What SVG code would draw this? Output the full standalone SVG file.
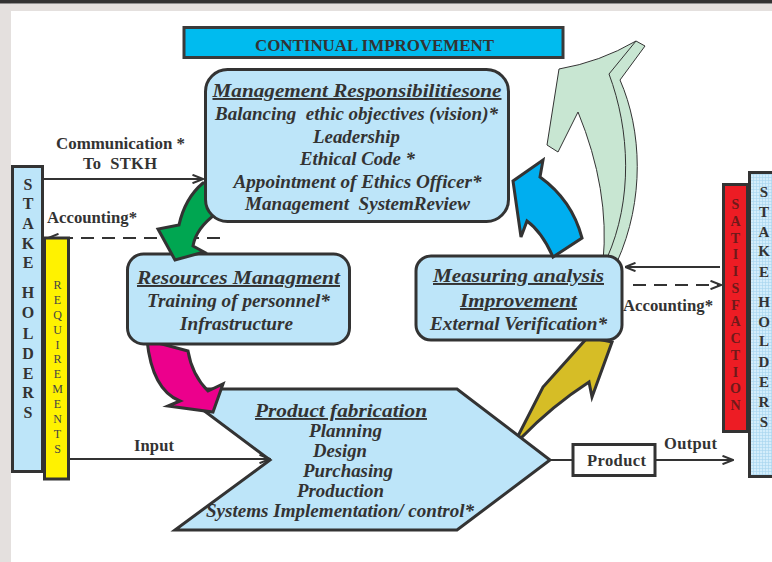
<svg xmlns="http://www.w3.org/2000/svg" width="772" height="562" viewBox="0 0 772 562">
<style>
.box{fill:#bde5f9;stroke:#333;stroke-width:3}
.t{font-family:"Liberation Serif","Times New Roman",serif;fill:#333;font-weight:bold}
.bi{font-family:"Liberation Serif","Times New Roman",serif;fill:#333;font-weight:bold;font-style:italic;text-anchor:middle}
.u{text-decoration:underline}
.ln{stroke:#333;stroke-width:2;fill:none}
.dash{stroke-dasharray:13 8}
.blk{stroke:#333;stroke-width:3;stroke-linejoin:miter}
.vl{font-family:"Liberation Serif","Times New Roman",serif;font-weight:bold;text-anchor:middle}
</style>
<defs>
<marker id="ah" viewBox="0 0 12 10" refX="11.5" refY="5" markerWidth="12" markerHeight="10" markerUnits="userSpaceOnUse" orient="auto">
<path d="M1,0.8 L11.5,5 L1,9.2" fill="none" stroke="#333" stroke-width="2"/>
</marker>
<pattern id="grid" width="3" height="3" patternUnits="userSpaceOnUse">
<rect width="3" height="3" fill="#d3edfb"/>
<path d="M0,0.5H3M0.5,0V3" stroke="#a6d4ef" stroke-width="0.6"/>
</pattern>
</defs>

<!-- page background -->
<rect x="0" y="0" width="772" height="562" fill="#ffffff"/>
<rect x="0" y="3.5" width="772" height="7.5" fill="#e4e0de"/>
<rect x="0" y="3.5" width="11" height="559" fill="#e4e0de"/>
<rect x="0" y="0" width="772" height="3.5" fill="#333"/>

<!-- title -->
<g id="continual">
<rect x="184" y="27.5" width="379" height="30" fill="#00bbef" stroke="#3a3a3a" stroke-width="3"/>
<text class="t" x="374.5" y="51" font-size="16.5" text-anchor="middle" textLength="239" lengthAdjust="spacingAndGlyphs">CONTINUAL IMPROVEMENT</text>
</g>

<!-- yellow arrow (behind product) -->
<g id="arrow-yellow">
<path class="blk" fill="#d6bd26" d="M516,440 L543,387 L588,337 L612,342 L592,397 L589,382 Q552,406 521,438 Z"/>
</g>

<g id="product-fabrication">
<polygon class="box" points="175,389 457,389 550,460 457,530 175,530 270,460"/>
<text class="bi u" x="341" y="417" font-size="19" textLength="172" lengthAdjust="spacingAndGlyphs">Product fabrication</text>
<text class="bi" x="345.5" y="437" font-size="18" textLength="73" lengthAdjust="spacingAndGlyphs">Planning</text>
<text class="bi" x="340" y="457" font-size="18" textLength="54" lengthAdjust="spacingAndGlyphs">Design</text>
<text class="bi" x="348" y="477" font-size="18" textLength="90" lengthAdjust="spacingAndGlyphs">Purchasing</text>
<text class="bi" x="340.5" y="497" font-size="18" textLength="87" lengthAdjust="spacingAndGlyphs">Production</text>
<text class="bi" x="340" y="517" font-size="18" textLength="268" lengthAdjust="spacingAndGlyphs">Systems Implementation/ control*</text>
</g>

<g id="arrow-magenta">
<path class="blk" fill="#ec008c" d="M147,340 L188,351 Q192,375 208,391 L223,384 L213,412 L168,406 L180,401 Q152,390 147,340 Z"/>
</g>

<g id="resources">
<rect class="box" x="127.5" y="254" width="222" height="90" rx="16"/>
<text class="bi u" x="238.5" y="284" font-size="19.5" textLength="203" lengthAdjust="spacingAndGlyphs">Resources Managment</text>
<text class="bi" x="238.5" y="307" font-size="18" textLength="183" lengthAdjust="spacingAndGlyphs">Training of personnel*</text>
<text class="bi" x="236.5" y="330" font-size="18" textLength="113" lengthAdjust="spacingAndGlyphs">Infrastructure</text>
</g>

<g id="connectors">
<line class="ln" x1="44" y1="179" x2="203" y2="179" marker-end="url(#ah)"/>
<line class="ln dash" x1="220" y1="238" x2="48" y2="238" marker-end="url(#ah)"/>
<line class="ln" x1="70" y1="459" x2="270" y2="459" marker-end="url(#ah)"/>
<line class="ln" x1="720" y1="267" x2="625" y2="267" marker-end="url(#ah)"/>
<line class="ln dash" x1="633" y1="285" x2="721" y2="285" marker-end="url(#ah)"/>
<line class="ln" x1="550" y1="460" x2="572" y2="460"/>
<line class="ln" x1="656" y1="460" x2="733" y2="460" marker-end="url(#ah)"/>
<text class="t" x="120.5" y="149" font-size="16.5" text-anchor="middle" textLength="129" lengthAdjust="spacingAndGlyphs">Communication *</text>
<text class="t" x="120" y="169" font-size="16.5" text-anchor="middle" textLength="74" xml:space="preserve">To  STKH</text>
<text class="t" x="47" y="223" font-size="16.5" textLength="90" lengthAdjust="spacingAndGlyphs">Accounting*</text>
<text class="t" x="623" y="311" font-size="16" textLength="90" lengthAdjust="spacingAndGlyphs">Accounting*</text>
<text class="t" x="134" y="451" font-size="16.5" textLength="40">Input</text>
<text class="t" x="664" y="449" font-size="16.5" textLength="53">Output</text>
</g>

<g id="arrow-green">
<path class="blk" fill="#00a651" d="M214,183 L203,183 Q185,198 179,225 L158,229 L175,260 L204,252 L193,246 Q196,228 217,213 Z"/>
</g>

<g id="management">
<rect class="box" x="205.5" y="69.5" width="303" height="152" rx="22"/>
<text class="bi u" x="357" y="97" font-size="19.5" textLength="289" lengthAdjust="spacingAndGlyphs">Management Responsibilitiesone</text>
<text class="bi" x="356.5" y="120" font-size="18" textLength="283" lengthAdjust="spacingAndGlyphs" xml:space="preserve">Balancing  ethic objectives (vision)*</text>
<text class="bi" x="356.5" y="143" font-size="18" textLength="87" lengthAdjust="spacingAndGlyphs">Leadership</text>
<text class="bi" x="357.5" y="165" font-size="18" textLength="115" lengthAdjust="spacingAndGlyphs">Ethical Code *</text>
<text class="bi" x="357.5" y="188" font-size="18" textLength="248" lengthAdjust="spacingAndGlyphs">Appointment of Ethics Officer*</text>
<text class="bi" x="357.5" y="210" font-size="18" textLength="225" lengthAdjust="spacingAndGlyphs" xml:space="preserve">Management  SystemReview</text>
</g>

<g id="arrow-big-green">
<path fill="#c8e6d2" stroke="#333" stroke-width="1" d="M603,262 Q610,190 578,112 L558,152 L547,145 L559,69 Q600,62 636,41 L645,46 L620,80 C642,130 645,200 617,262 Z"/>
<path fill="none" stroke="#333" stroke-width="1" d="M636,41 L609,74 C630,130 633,200 607,258"/>
</g>

<g id="measuring">
<rect class="box" x="416" y="256" width="206" height="84" rx="15"/>
<text class="bi u" x="518.5" y="282" font-size="19.5" textLength="171" lengthAdjust="spacingAndGlyphs">Measuring analysis</text>
<text class="bi u" x="518.5" y="307" font-size="19.5" textLength="117" lengthAdjust="spacingAndGlyphs">Improvement</text>
<text class="bi" x="518.5" y="330" font-size="18" textLength="177" lengthAdjust="spacingAndGlyphs">External Verification*</text>
</g>

<g id="arrow-blue">
<path class="blk" fill="#00aeef" d="M553,257 L582,238 Q572,200 540,177 L543,160 L513,181 L521,237 L527,221 Q542,232 553,257 Z"/>
</g>

<g id="product">
<rect x="573" y="444.5" width="82" height="31" fill="#fff" stroke="#333" stroke-width="3"/>
<text class="t" x="587" y="466" font-size="16.5" textLength="59">Product</text>
</g>

<g id="stakeholders-left">
<rect class="box" x="12.5" y="166.5" width="30" height="305"/>
<g class="vl" font-size="16" fill="#333">
<text x="28" y="190">S</text><text x="28" y="209">T</text><text x="28" y="229">A</text><text x="28" y="249">K</text><text x="28" y="268">E</text>
<text x="28" y="298">H</text><text x="28" y="318">O</text><text x="28" y="339">L</text><text x="28" y="359">D</text><text x="28" y="379">E</text><text x="28" y="398">R</text><text x="28" y="418">S</text>
</g>
</g>

<g id="requirements">
<rect x="44.5" y="238" width="24" height="241" fill="#fff200" stroke="#333" stroke-width="3"/>
<g font-family="Liberation Serif, Times New Roman, serif" font-size="12" fill="#444" text-anchor="middle">
<text x="57.5" y="289">R</text><text x="57.5" y="304">E</text><text x="57.5" y="319">Q</text><text x="57.5" y="334">U</text><text x="57.5" y="349">I</text><text x="57.5" y="363">R</text><text x="57.5" y="378">E</text><text x="57.5" y="393">M</text><text x="57.5" y="408">E</text><text x="57.5" y="423">N</text><text x="57.5" y="438">T</text><text x="57.5" y="453">S</text>
</g>
</g>

<g id="satisfaction">
<rect x="723.5" y="184.5" width="24" height="247" fill="#ed1c24" stroke="#333" stroke-width="3"/>
<g class="vl" font-size="14" fill="#6e1a1a">
<text x="735.5" y="209">S</text><text x="735.5" y="226">A</text><text x="735.5" y="243">T</text><text x="735.5" y="259">I</text><text x="735.5" y="276">I</text><text x="735.5" y="293">S</text><text x="735.5" y="310">F</text><text x="735.5" y="326">A</text><text x="735.5" y="343">C</text><text x="735.5" y="360">T</text><text x="735.5" y="377">I</text><text x="735.5" y="393">O</text><text x="735.5" y="410">N</text>
</g>
</g>

<g id="stakeholders-right">
<rect x="749.5" y="172.5" width="30" height="304" fill="url(#grid)" stroke="#333" stroke-width="3"/>
<g class="vl" font-size="15" fill="#333">
<text x="764" y="197">S</text><text x="764" y="217">T</text><text x="764" y="237">A</text><text x="764" y="256">K</text><text x="764" y="277">E</text>
<text x="764" y="307">H</text><text x="764" y="327">O</text><text x="764" y="346">L</text><text x="764" y="367">D</text><text x="764" y="387">E</text><text x="764" y="407">R</text><text x="764" y="427">S</text>
</g>
</g>
</svg>
